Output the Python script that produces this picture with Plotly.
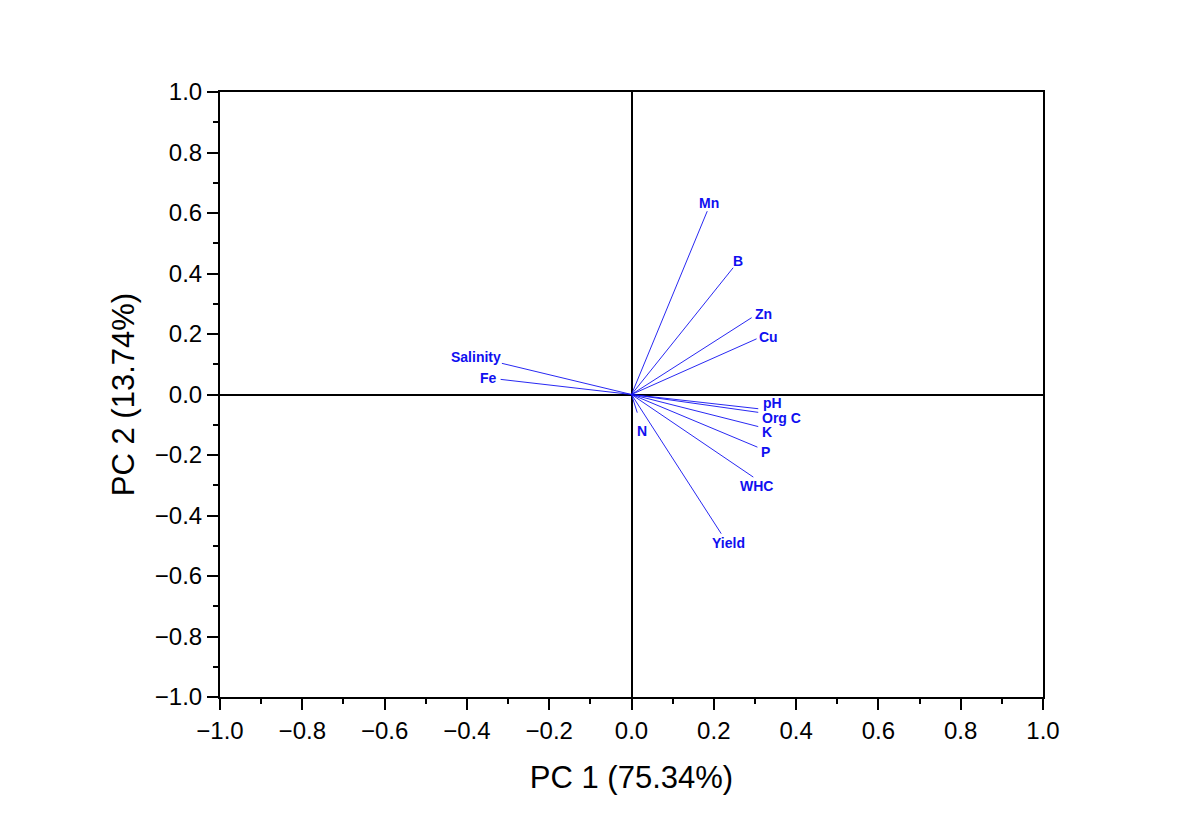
import plotly.graph_objects as go

variables = ["Mn", "B", "Zn", "Cu", "pH", "Org C", "K", "P", "WHC", "Yield", "N", "Salinity", "Fe"]
pc1 = [0.184, 0.247, 0.292, 0.304, 0.308, 0.308, 0.308, 0.306, 0.296, 0.218, 0.014, -0.315, -0.318]
pc2 = [0.606, 0.419, 0.254, 0.184, -0.047, -0.059, -0.106, -0.174, -0.273, -0.460, -0.060, 0.103, 0.050]

# label offsets in pixels (style)
label_shift = {
    "Mn": (2, 8), "B": (5, 7), "Zn": (12, 4), "Cu": (12, 2), "pH": (14, 6),
    "Org C": (23, -6), "K": (9, -5), "P": (8, -5), "WHC": (3, -9), "Yield": (7, -9),
    "N": (5, -18), "Salinity": (-26, 6), "Fe": (-12, 1),
}

BLUE = "#1010f0"
FONT = "Arial, Liberation Sans"
fig = go.Figure()
for name, x, y in zip(variables, pc1, pc2):
    fig.add_trace(go.Scatter(x=[0, x], y=[0, y], mode="lines",
                             line=dict(color=BLUE, width=0.9), showlegend=False, hoverinfo="skip"))
    dx, dy = label_shift[name]
    fig.add_annotation(x=x, y=y, text=f"<b>{name}</b>", showarrow=False,
                       xanchor="center", yanchor="middle", xshift=dx, yshift=dy,
                       font=dict(family=FONT, size=14, color=BLUE))

axis_common = dict(
    range=[-1, 1], dtick=0.2, tickformat=".1f",
    showline=True, linecolor="black", linewidth=2, mirror=True,
    ticks="outside", ticklen=11, tickwidth=2, tickcolor="black",
    minor=dict(ticks="outside", dtick=0.1, ticklen=5, tickwidth=2, tickcolor="black"),
    showgrid=False, zeroline=True, zerolinecolor="black", zerolinewidth=2,
    tickfont=dict(family=FONT, size=24, color="black"),
)

fig.update_xaxes(**axis_common,
                 title=dict(text="PC 1 (75.34%)", standoff=24,
                            font=dict(family=FONT, size=31, color="black")))
fig.update_yaxes(**axis_common,
                 title=dict(text="PC 2 (13.74%)", standoff=11,
                            font=dict(family=FONT, size=31, color="black")))

fig.update_layout(
    width=1203, height=831,
    margin=dict(l=212, r=168, t=84, b=142),
    paper_bgcolor="white", plot_bgcolor="white",
    showlegend=False,
)

fig.write_html("out.html")
